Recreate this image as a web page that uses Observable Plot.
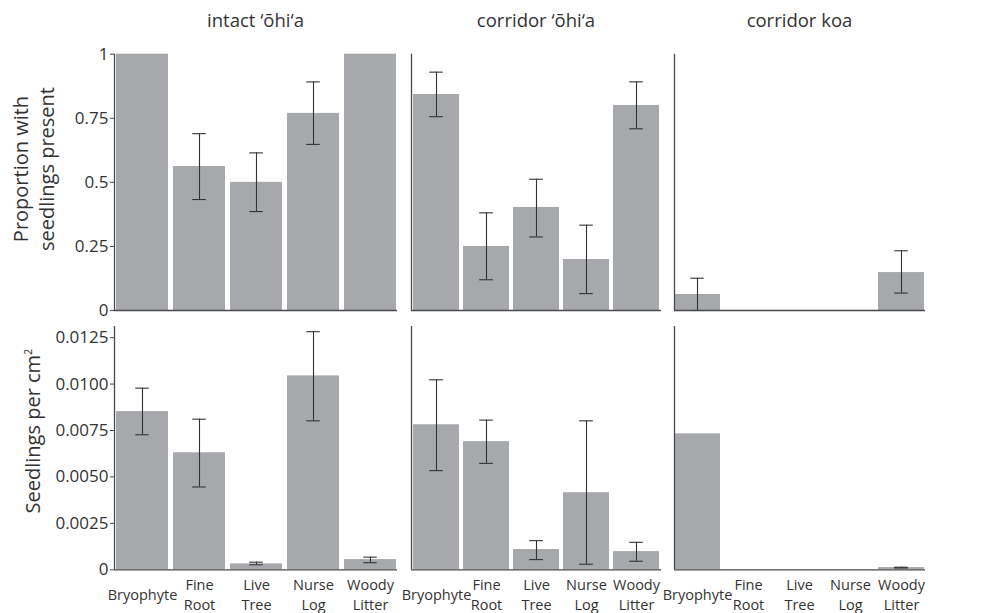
<!DOCTYPE html>
<html>
<head>
<meta charset="utf-8">
<script src="https://cdn.jsdelivr.net/npm/d3@7"></script>
<script src="https://cdn.jsdelivr.net/npm/@observablehq/plot@0.6"></script>
<style>
  html, body { margin: 0; padding: 0; background: #fff; }
  #chart { position: relative; width: 989px; height: 613px; overflow: hidden; font-family: "Open Sans", Lato, sans-serif; color: #333; }
  .panel { position: absolute; }
  .title { position: absolute; top: 7px; font-size: 18.5px; text-align: center; color: #333; white-space: nowrap; transform: translateX(-50%); }
  .ylab { position: absolute; font-size: 20px; color: #333; text-align: center; line-height: 26px; white-space: nowrap; transform: translate(-50%, -50%) rotate(-90deg); }
  .ylab sup { font-size: 11px; vertical-align: 8px; }
</style>
</head>
<body>
<div id="chart"></div>
<script>
// ---- data ----
const habitats = ["intact ‘ōhi‘a", "corridor ‘ōhi‘a", "corridor koa"];
const substrates = ["Bryophyte", "Fine Root", "Live Tree", "Nurse Log", "Woody Litter"];
const substrateLabels = ["Bryophyte", "Fine\nRoot", "Live\nTree", "Nurse\nLog", "Woody\nLitter"];

// proportion with seedlings present
const propIntact      = [1.000, 0.562, 0.500, 0.769, 1.000];
const propIntactLo    = [null, 0.433, 0.386, 0.648, null];
const propIntactHi    = [null, 0.690, 0.615, 0.892, null];
const propCorOhia     = [0.843, 0.250, 0.402, 0.199, 0.800];
const propCorOhiaLo   = [0.756, 0.120, 0.287, 0.066, 0.709];
const propCorOhiaHi   = [0.930, 0.381, 0.512, 0.333, 0.892];
const propCorKoa      = [0.0625, 0, 0, 0, 0.148];
const propCorKoaLo    = [0.000, null, null, null, 0.068];
const propCorKoaHi    = [0.126, null, null, null, 0.233];

// seedlings per cm²
const densIntact      = [0.00852, 0.00630, 0.00032, 0.01044, 0.00055];
const densIntactLo    = [0.00727, 0.00446, 0.00027, 0.00802, 0.00038];
const densIntactHi    = [0.00978, 0.00811, 0.00041, 0.01282, 0.00068];
const densCorOhia     = [0.00781, 0.00690, 0.00109, 0.00415, 0.00098];
const densCorOhiaLo   = [0.00534, 0.00573, 0.00055, 0.00030, 0.00046];
const densCorOhiaHi   = [0.01023, 0.00806, 0.00157, 0.00802, 0.00148];
const densCorKoa      = [0.00732, 0, 0, 0, 0.00012];
const densCorKoaLo    = [null, null, null, null, 0.00010];
const densCorKoaHi    = [null, null, null, null, 0.00014];

const propTicks = [0, 0.25, 0.5, 0.75, 1];
const propTickLabels = ["0", "0.25", "0.5", "0.75", "1"];
const densTicks = [0, 0.0025, 0.005, 0.0075, 0.01, 0.0125];
const densTickLabels = ["0", "0.0025", "0.0050", "0.0075", "0.0100", "0.0125"];

// ---- build ----
const BAR = "#a7a8ac", INK = "#333", AXIS = "#4a4a4a";
const FONT = "'Open Sans', Lato, sans-serif";
const chart = document.getElementById("chart");

function rows(vals, lo, hi) {
  return substrates.map((s, i) => ({ s, label: substrateLabels[i], v: vals[i], lo: lo[i], hi: hi[i] }));
}

// panel frames (x pixel extents)
const cols = [
  { left: 114, right: 397 },
  { left: 411, right: 661 },
  { left: 674, right: 925 }
];

function panel(colIdx, row, data) {
  const c = cols[colIdx];
  const top = row === 0;
  const svgLeft = c.left - (colIdx === 0 ? 114 : 10);
  const mL = c.left - svgLeft;
  const mR = 8;
  const width = (c.right - c.left) + mL + mR;
  const svgTop = top ? 0 : 310;
  const mT = top ? 53.7 : 16;
  const height = top ? 312 : 303;
  const mB = top ? 2 : (613 - 569.3);
  const frameW = c.right - c.left;
  const bw = frameW / 4.91 * 0.91;
  const capInset = Math.max(0, (bw - 14) / 2);
  const errs = data.filter(d => d.lo != null);
  const marks = [
    Plot.barY(data, { x: "s", y: "v", fill: BAR }),
    Plot.ruleX(errs, { x: "s", y1: "lo", y2: "hi", stroke: INK, strokeWidth: 1.1 }),
    Plot.tickY(errs, { x: "s", y: "lo", stroke: INK, strokeWidth: 1.1, insetLeft: capInset, insetRight: capInset }),
    Plot.tickY(errs, { x: "s", y: "hi", stroke: INK, strokeWidth: 1.1, insetLeft: capInset, insetRight: capInset }),
    Plot.ruleY([0], { stroke: AXIS, strokeWidth: 1.3 })
  ];
  if (colIdx === 0) {
    marks.push(Plot.axisY({
      ticks: top ? propTicks : densTicks,
      tickFormat: (d, i) => (top ? propTickLabels : densTickLabels)[i],
      tickSize: 4, tickPadding: 2, label: null, fontSize: 17, fill: INK, stroke: AXIS
    }));
  }
  if (!top) {
    marks.push(Plot.text(data, {
      x: "s", text: "label", frameAnchor: "bottom", dy: 24, lineAnchor: "middle",
      lineHeight: 1.4, fontSize: 14.5, fill: INK
    }));
  }
  const p = Plot.plot({
    width, height,
    marginLeft: mL, marginRight: mR, marginTop: mT, marginBottom: mB,
    style: { fontFamily: FONT, fontSize: "16px", color: INK, background: "transparent", overflow: "visible" },
    x: { domain: substrates, paddingInner: 0.09, paddingOuter: 0, axis: null },
    y: { domain: top ? [0, 1] : [0, 0.0131], axis: null },
    marks
  });
  p.classList.add("panel");
  p.style.left = svgLeft + "px";
  p.style.top = svgTop + "px";
  chart.appendChild(p);
  return p;
}

const topData = [
  rows(propIntact, propIntactLo, propIntactHi),
  rows(propCorOhia, propCorOhiaLo, propCorOhiaHi),
  rows(propCorKoa, propCorKoaLo, propCorKoaHi)
];
const botData = [
  rows(densIntact, densIntactLo, densIntactHi),
  rows(densCorOhia, densCorOhiaLo, densCorOhiaHi),
  rows(densCorKoa, densCorKoaLo, densCorKoaHi)
];
for (let i = 0; i < 3; i++) {
  panel(i, 0, topData[i]);
  panel(i, 1, botData[i]);
}

// left axis lines (vertical)
function leftLine(colIdx, row) {
  const c = cols[colIdx];
  const top = row === 0;
  const p = Plot.plot({
    width: 4, height: top ? 312 : 303,
    marginLeft: 1, marginRight: 2, marginTop: top ? 53.7 : 16, marginBottom: top ? 2 : 43.7,
    style: { background: "transparent", overflow: "visible" },
    x: { domain: [0, 1], axis: null },
    y: { domain: top ? [0, 1] : [0, 0.0131], axis: null },
    marks: [Plot.ruleX([0], { y1: 0, y2: top ? 1 : 0.0131, stroke: AXIS, strokeWidth: 1.3 })]
  });
  p.classList.add("panel");
  p.style.left = (c.left - 1) + "px";
  p.style.top = (top ? 0 : 310) + "px";
  chart.appendChild(p);
}
for (let i = 0; i < 3; i++) { leftLine(i, 0); leftLine(i, 1); }

// column titles
habitats.forEach((h, i) => {
  const d = document.createElement("div");
  d.className = "title";
  d.textContent = h;
  d.style.left = ((cols[i].left + cols[i].right) / 2) + "px";
  chart.appendChild(d);
});

// y labels
const yl1 = document.createElement("div");
yl1.className = "ylab";
yl1.innerHTML = "Proportion with<br>seedlings present";
yl1.style.left = "34px"; yl1.style.top = "169px";
chart.appendChild(yl1);
const yl2 = document.createElement("div");
yl2.className = "ylab";
yl2.innerHTML = "Seedlings per cm<sup>2</sup>";
yl2.style.left = "30px"; yl2.style.top = "431px";
chart.appendChild(yl2);
</script>
</body>
</html>
